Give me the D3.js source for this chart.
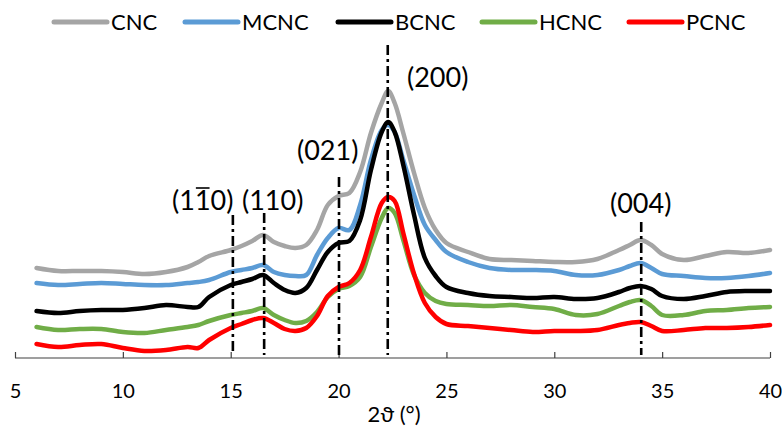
<!DOCTYPE html>
<html><head><meta charset="utf-8">
<script src="https://cdn.jsdelivr.net/npm/d3@7"></script>
<style>body{margin:0;background:#fff}svg{display:block}</style>
</head><body><svg id="c" width="782" height="429"></svg>
<script>
// ---- data ----
const twoTheta = [6,7,8,9,10,11,12,13,13.5,14,15,15.5,16,16.5,17,17.5,18,18.5,19,19.5,20,20.5,21,21.5,22,22.3,22.6,23,23.5,24,24.5,25,26,27,28,29,30,31,32,33,33.5,34,34.5,35,36,37,38,39,40];
const CNC  = [89,86,86,86,85,83,85,90,95,101,107,111,116,122,115,111,109,112,127,152,161,164,185,224,254,266,254,224,184,149,127,114,105,98,97,96,95,95,98,107,112,117,112,103,97,101,105,104,107];
const MCNC = [74,72,73,74,73,72,72,74,75,77,85,87,89,92,85,82,81,82,102,119,129,127,152,197,227,232,225,197,162,132,117,105,95,89,87,87,86,82,82,87,91,94,89,83,81,79,79,81,84];
const BCNC = [46,44,46,47,47,49,52,50,50,60,72,75,78,82,74,67,64,69,87,105,114,116,137,187,225,235,225,192,142,99,81,70,64,61,60,59,60,58,59,65,69,71,68,61,58,61,65,66,66];
const HCNC = [30,27,28,28,25,24,27,30,32,36,42,44,46,49,42,37,34,36,45,60,68,71,80,110,139,149,144,117,82,64,56,53,52,51,52,50,48,42,43,51,55,57,51,42,42,46,47,49,50];
const PCNC = [13,10,12,13,9,6,7,10,9,17,29,33,37,39,34,28,26,29,41,61,70,74,87,120,154,160,156,124,83,54,40,33,31,29,27,25,26,26,27,32,34,35,31,26,27,29,29,30,32];
const seriesNames = ["CNC","MCNC","BCNC","HCNC","PCNC"];
const seriesValues = [CNC, MCNC, BCNC, HCNC, PCNC];
const seriesColors = ["#A5A5A5","#5B9BD5","#000000","#70AD47","#FF0000"];
const xTicks = [5,10,15,20,25,30,35,40];
const peakPos = [15.1,16.55,20.02,22.28,34.03];
const peakTop = [142,144,180,312,135];
const peakLabels = ["(1\u00AF10)","(110)","(021)","(200)","(004)"];
const xTitle = "2\u03D1 (\u00B0)";

// ---- layout ----
const svg = d3.select("#c");
const x = d3.scaleLinear().domain([5,40]).range([15,770]);
const y = d3.scaleLinear().domain([0,300]).range([357,57]);
const axisY = 358;
const FONT = "Lato, 'Open Sans', sans-serif";

// series
const line = d3.line().x(d=>x(d[0])).y(d=>y(d[1])).curve(d3.curveCatmullRom.alpha(0.5));
seriesValues.forEach((vals,i)=>{
  svg.append("path")
    .datum(twoTheta.map((t,j)=>[t,vals[j]]))
    .attr("fill","none").attr("stroke",seriesColors[i])
    .attr("stroke-width",4.5).attr("stroke-linejoin","round").attr("stroke-linecap","round")
    .attr("d",line);
});

// axis
const axis = d3.axisBottom(x).tickValues(xTicks).tickSize(-6).tickPadding(0).tickFormat(d3.format("d"));
const gA = svg.append("g").attr("transform",`translate(0,${axisY})`).call(axis);
gA.select(".domain").attr("stroke","#404040").attr("stroke-width",1.2).attr("d",`M${x(5)},0H${x(40)}`);
gA.selectAll(".tick line").attr("stroke","#404040").attr("stroke-width",1.2);
gA.selectAll(".tick text").attr("y",40).attr("dy",0).attr("fill","#000")
  .style("font-family",FONT).style("font-size","20px");
svg.append("text").attr("x",394).attr("y",422).attr("text-anchor","middle")
  .style("font-family",FONT).style("font-size","22px").attr("fill","#000").text(xTitle);

// dash-dot reference lines
peakPos.forEach((p,i)=>{
  svg.append("line").attr("x1",x(p)).attr("x2",x(p)).attr("y1",y(peakTop[i])).attr("y2",y(2))
    .attr("stroke","#000").attr("stroke-width",2.6).attr("stroke-dasharray","10,4,3,4");
});

// peak labels
const labelPos = [[172,210],[242,210],[297,160],[407,87],[610,213]];
peakLabels.forEach((lab,i)=>{
  const t = svg.append("text").attr("x",labelPos[i][0]).attr("y",labelPos[i][1])
    .style("font-family",FONT).style("font-size","27px").attr("fill","#000");
  if (lab.indexOf("\u00AF")>=0) {
    t.append("tspan").text("(1");
    t.append("tspan").text("1");
    t.append("tspan").text("0)");
    const node = t.node();
    const s = node.getStartPositionOfChar(2).x, e = node.getEndPositionOfChar(2).x;
    svg.append("line").attr("x1",s+1).attr("x2",e-1).attr("y1",labelPos[i][1]-22).attr("y2",labelPos[i][1]-22)
      .attr("stroke","#000").attr("stroke-width",1.6);
  } else t.text(lab);
});

// legend
const legX = [54,185,338,482,629];
seriesNames.forEach((n,i)=>{
  svg.append("line").attr("x1",legX[i]).attr("x2",legX[i]+53).attr("y1",22).attr("y2",22)
    .attr("stroke",seriesColors[i]).attr("stroke-width",5).attr("stroke-linecap","round");
  svg.append("text").attr("x",legX[i]+57).attr("y",30)
    .style("font-family",FONT).style("font-size","22px").attr("fill","#000").text(n);
});
</script></body></html>
